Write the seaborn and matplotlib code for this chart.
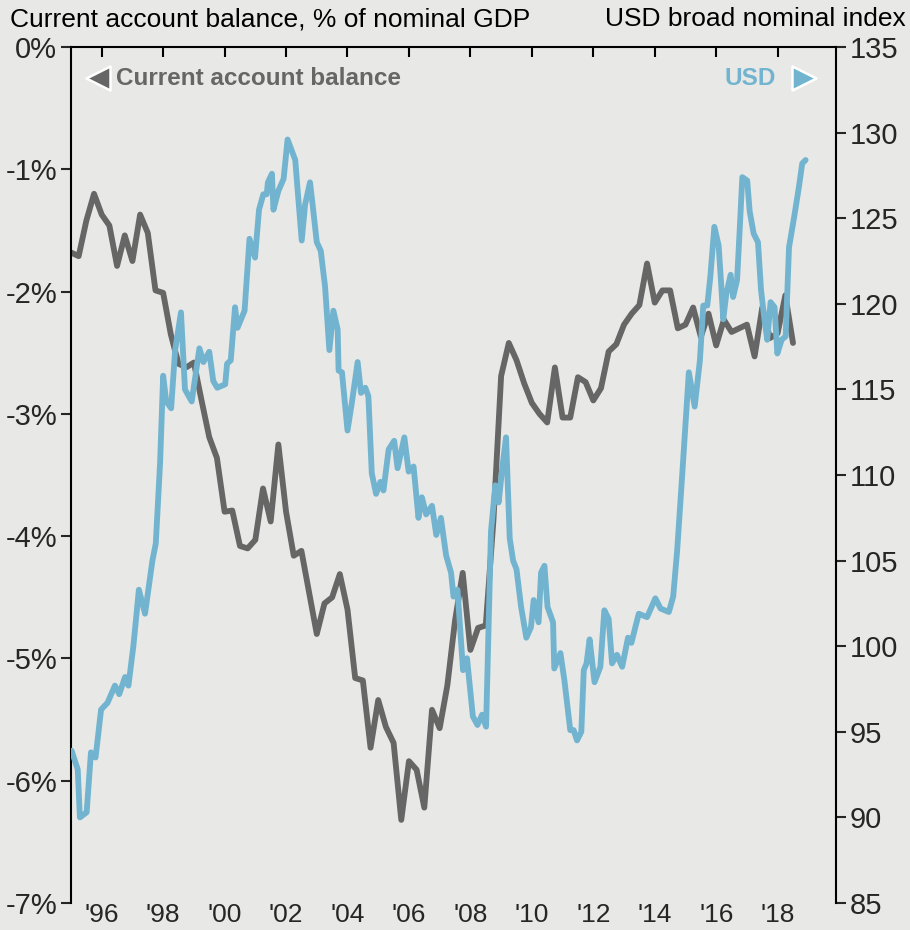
import numpy as np
import pandas as pd
import matplotlib
matplotlib.use("Agg")
import matplotlib.pyplot as plt
import seaborn as sns

BG = "#e8e8e6"
GREY = "#666666"
BLUE = "#72b4cf"

sns.set_style("white", {"axes.facecolor": BG, "figure.facecolor": BG})
plt.rcParams["font.family"] = ["Liberation Sans", "DejaVu Sans"]

# ---------------- DATA ----------------
# current account balance, % of GDP, quarterly 1995Q1 - 2018Q3
ca_quarters = pd.period_range("1995Q1", "2018Q3", freq="Q")
ca_balance = [
    -1.68, -1.71, -1.42, -1.20,   # 1995
    -1.37, -1.46, -1.79, -1.54,   # 1996
    -1.75, -1.37, -1.52, -1.99,   # 1997
    -2.01, -2.35, -2.59, -2.62,   # 1998
    -2.58, -2.89, -3.19, -3.36,   # 1999
    -3.80, -3.79, -4.08, -4.10,   # 2000
    -4.03, -3.61, -3.88, -3.25,   # 2001
    -3.80, -4.16, -4.12, -4.46,   # 2002
    -4.80, -4.55, -4.50, -4.31,   # 2003
    -4.60, -5.16, -5.18, -5.73,   # 2004
    -5.34, -5.56, -5.69, -6.32,   # 2005
    -5.84, -5.91, -6.22, -5.42,   # 2006
    -5.57, -5.22, -4.69, -4.30,   # 2007
    -4.93, -4.75, -4.73, -3.87,   # 2008
    -2.69, -2.42, -2.56, -2.75,   # 2009
    -2.91, -3.00, -3.07, -2.62,   # 2010
    -3.03, -3.03, -2.70, -2.74,   # 2011
    -2.89, -2.79, -2.49, -2.43,   # 2012
    -2.27, -2.18, -2.11, -1.77,   # 2013
    -2.09, -1.99, -1.99, -2.30,   # 2014
    -2.27, -2.13, -2.37, -2.18,   # 2015
    -2.44, -2.23, -2.33, -2.30,   # 2016
    -2.27, -2.53, -2.13, -2.38,   # 2017
    -2.34, -2.03, -2.42,          # 2018
]

# USD broad nominal index (decimal year, level)
usd_dates = [
    1995.02, 1995.22, 1995.29, 1995.51, 1995.65, 1995.80, 1995.98, 1996.19, 1996.43, 1996.57,
    1996.76, 1996.87, 1997.03, 1997.21, 1997.41, 1997.65, 1997.76, 1997.90, 1998.00, 1998.10,
    1998.26, 1998.39, 1998.58, 1998.71, 1998.93, 1999.18, 1999.31, 1999.50, 1999.63, 1999.76,
    2000.02, 2000.08, 2000.20, 2000.34, 2000.42, 2000.65, 2000.81, 2000.99, 2001.12, 2001.26,
    2001.37, 2001.41, 2001.54, 2001.59, 2001.75, 2001.92, 2002.05, 2002.30, 2002.37, 2002.51,
    2002.62, 2002.78, 2002.87, 2003.00, 2003.13, 2003.27, 2003.41, 2003.54, 2003.68, 2003.71,
    2003.82, 2004.00, 2004.14, 2004.33, 2004.44, 2004.58, 2004.68, 2004.79, 2004.93, 2005.07,
    2005.17, 2005.34, 2005.52, 2005.63, 2005.85, 2005.99, 2006.15, 2006.31, 2006.42, 2006.56,
    2006.75, 2006.89, 2007.04, 2007.21, 2007.37, 2007.45, 2007.58, 2007.76, 2007.89, 2008.08,
    2008.23, 2008.38, 2008.51, 2008.67, 2008.81, 2008.92, 2009.03, 2009.16, 2009.28, 2009.39,
    2009.50, 2009.65, 2009.82, 2009.97, 2010.06, 2010.22, 2010.30, 2010.41, 2010.51, 2010.69,
    2010.73, 2010.93, 2011.06, 2011.25, 2011.36, 2011.47, 2011.61, 2011.69, 2011.78, 2011.88,
    2012.04, 2012.23, 2012.36, 2012.50, 2012.61, 2012.77, 2012.94, 2013.13, 2013.24, 2013.48,
    2013.75, 2014.02, 2014.19, 2014.46, 2014.60, 2014.73, 2014.89, 2015.00, 2015.11, 2015.30,
    2015.47, 2015.58, 2015.71, 2015.81, 2015.94, 2016.08, 2016.16, 2016.23, 2016.33, 2016.47,
    2016.55, 2016.68, 2016.77, 2016.85, 2017.01, 2017.09, 2017.22, 2017.36, 2017.46, 2017.57,
    2017.66, 2017.77, 2017.90, 2017.99, 2018.13, 2018.26, 2018.37, 2018.54, 2018.69, 2018.80,
    2018.91,
]
usd_index = [
    93.9, 92.8, 90.0, 90.3, 93.8, 93.5, 96.3, 96.7, 97.7, 97.2,
    98.2, 97.7, 100.0, 103.3, 101.9, 105.0, 106.0, 110.7, 115.8, 114.3,
    113.9, 117.3, 119.5, 115.0, 114.3, 117.4, 116.6, 117.2, 115.5, 115.1,
    115.3, 116.5, 116.7, 119.8, 118.6, 119.6, 123.8, 122.7, 125.5, 126.4,
    126.4, 127.1, 127.6, 125.5, 126.6, 127.3, 129.6, 128.4, 126.8, 123.7,
    125.8, 127.1, 125.7, 123.6, 123.1, 121.0, 117.3, 119.6, 118.5, 116.1,
    116.0, 112.6, 114.2, 116.6, 114.8, 115.1, 114.6, 110.1, 108.9, 109.6,
    109.1, 111.5, 112.0, 110.4, 112.2, 110.2, 110.5, 107.5, 108.7, 107.7,
    108.2, 106.5, 107.5, 105.3, 104.3, 102.9, 103.3, 98.6, 99.3, 95.9,
    95.4, 96.0, 95.3, 106.7, 109.4, 108.4, 110.3, 112.2, 106.3, 105.0,
    104.5, 102.3, 100.5, 101.1, 102.7, 101.4, 104.3, 104.7, 102.3, 101.4,
    98.7, 99.6, 98.0, 95.1, 95.1, 94.5, 95.0, 98.6, 99.0, 100.4,
    97.9, 98.8, 102.1, 101.6, 99.0, 99.5, 98.8, 100.5, 100.2, 101.9,
    101.7, 102.8, 102.2, 102.0, 102.9, 105.6, 109.9, 113.0, 116.0, 114.0,
    116.7, 119.9, 119.9, 121.6, 124.5, 123.4, 121.2, 119.1, 120.6, 121.7,
    120.4, 121.4, 124.5, 127.4, 127.2, 125.4, 124.1, 123.6, 120.8, 119.1,
    117.9, 120.1, 119.8, 117.1, 117.9, 118.1, 123.3, 125.1, 126.8, 128.2,
    128.4,
]

year_ticks = [1996, 1998, 2000, 2002, 2004, 2006, 2008, 2010, 2012, 2014, 2016, 2018]
year_labels = ["'96", "'98", "'00", "'02", "'04", "'06", "'08", "'10", "'12", "'14", "'16", "'18"]
ca_ticks = [0, -1, -2, -3, -4, -5, -6, -7]
usd_ticks = [85, 90, 95, 100, 105, 110, 115, 120, 125, 130, 135]

ca = pd.DataFrame({"date": ca_quarters.year + (ca_quarters.quarter - 1) / 4, "ca": ca_balance})
usd = pd.DataFrame({"date": usd_dates, "usd": usd_index})

# ---------------- PLOT ----------------
FS = 20
fig = plt.figure(figsize=(9.1, 9.3), dpi=100, facecolor=BG)
ax = fig.add_axes([0.078, 0.029, 0.8407, 0.9204])
ax2 = ax.twinx()

sns.lineplot(data=ca, x="date", y="ca", ax=ax, color=GREY, linewidth=4.2)
sns.lineplot(data=usd, x="date", y="usd", ax=ax2, color=BLUE, linewidth=4.2)

ax.set_xlim(1995.0, 2019.9)
ax.set_ylim(-7, 0)
ax2.set_ylim(85, 135)

ax.set_xticks(year_ticks)
ax.set_xticklabels(year_labels)
ax.set_yticks(ca_ticks)
ax.set_yticklabels([f"{t}%" for t in ca_ticks])
ax2.set_yticks(usd_ticks)
ax2.set_yticklabels([str(t) for t in usd_ticks])

ax.set_xlabel("")
ax.set_ylabel("")
ax2.set_ylabel("")

for s in ["bottom", "right"]:
    ax.spines[s].set_visible(False)
for s in ["top", "bottom", "left"]:
    ax2.spines[s].set_visible(False)
for s in ["left", "top"]:
    ax.spines[s].set_color("black")
    ax.spines[s].set_linewidth(1.5)
ax2.spines["right"].set_color("black")
ax2.spines["right"].set_linewidth(1.5)

ax.tick_params(axis="x", top=True, bottom=False, labeltop=False, labelbottom=True,
               direction="in", length=7, width=1.5, labelsize=19, pad=0, color="black")
ax.tick_params(axis="y", left=True, direction="out", length=7, width=1.5, labelsize=FS + 1, pad=3)
ax2.tick_params(axis="y", right=True, direction="out", length=7, width=1.5, labelsize=FS + 1, pad=3)

# axis titles above the plot
fig.text(0.011, 0.972, "Current account balance, % of nominal GDP", ha="left", va="baseline",
         fontsize=19, color="black")
fig.text(0.995, 0.972, "USD broad nominal index", ha="right", va="baseline",
         fontsize=19, color="black")

# inline legend with arrows
ax.scatter([0.0353], [0.9638], marker="<", s=300, color=GREY, edgecolor="white",
           linewidth=1.8, transform=ax.transAxes, clip_on=False, zorder=5)
ax.text(0.059, 0.9638, "Current account balance", transform=ax.transAxes, color=GREY,
        fontsize=17.5, fontweight="bold", ha="left", va="center")
ax2.scatter([0.958], [0.9638], marker=">", s=300, color=BLUE, edgecolor="white",
            linewidth=1.8, transform=ax2.transAxes, clip_on=False, zorder=5)
ax2.text(0.9216, 0.9638, "USD", transform=ax2.transAxes, color=BLUE,
         fontsize=17.5, fontweight="bold", ha="right", va="center")

fig.savefig("out.png", dpi=100, facecolor=BG)
